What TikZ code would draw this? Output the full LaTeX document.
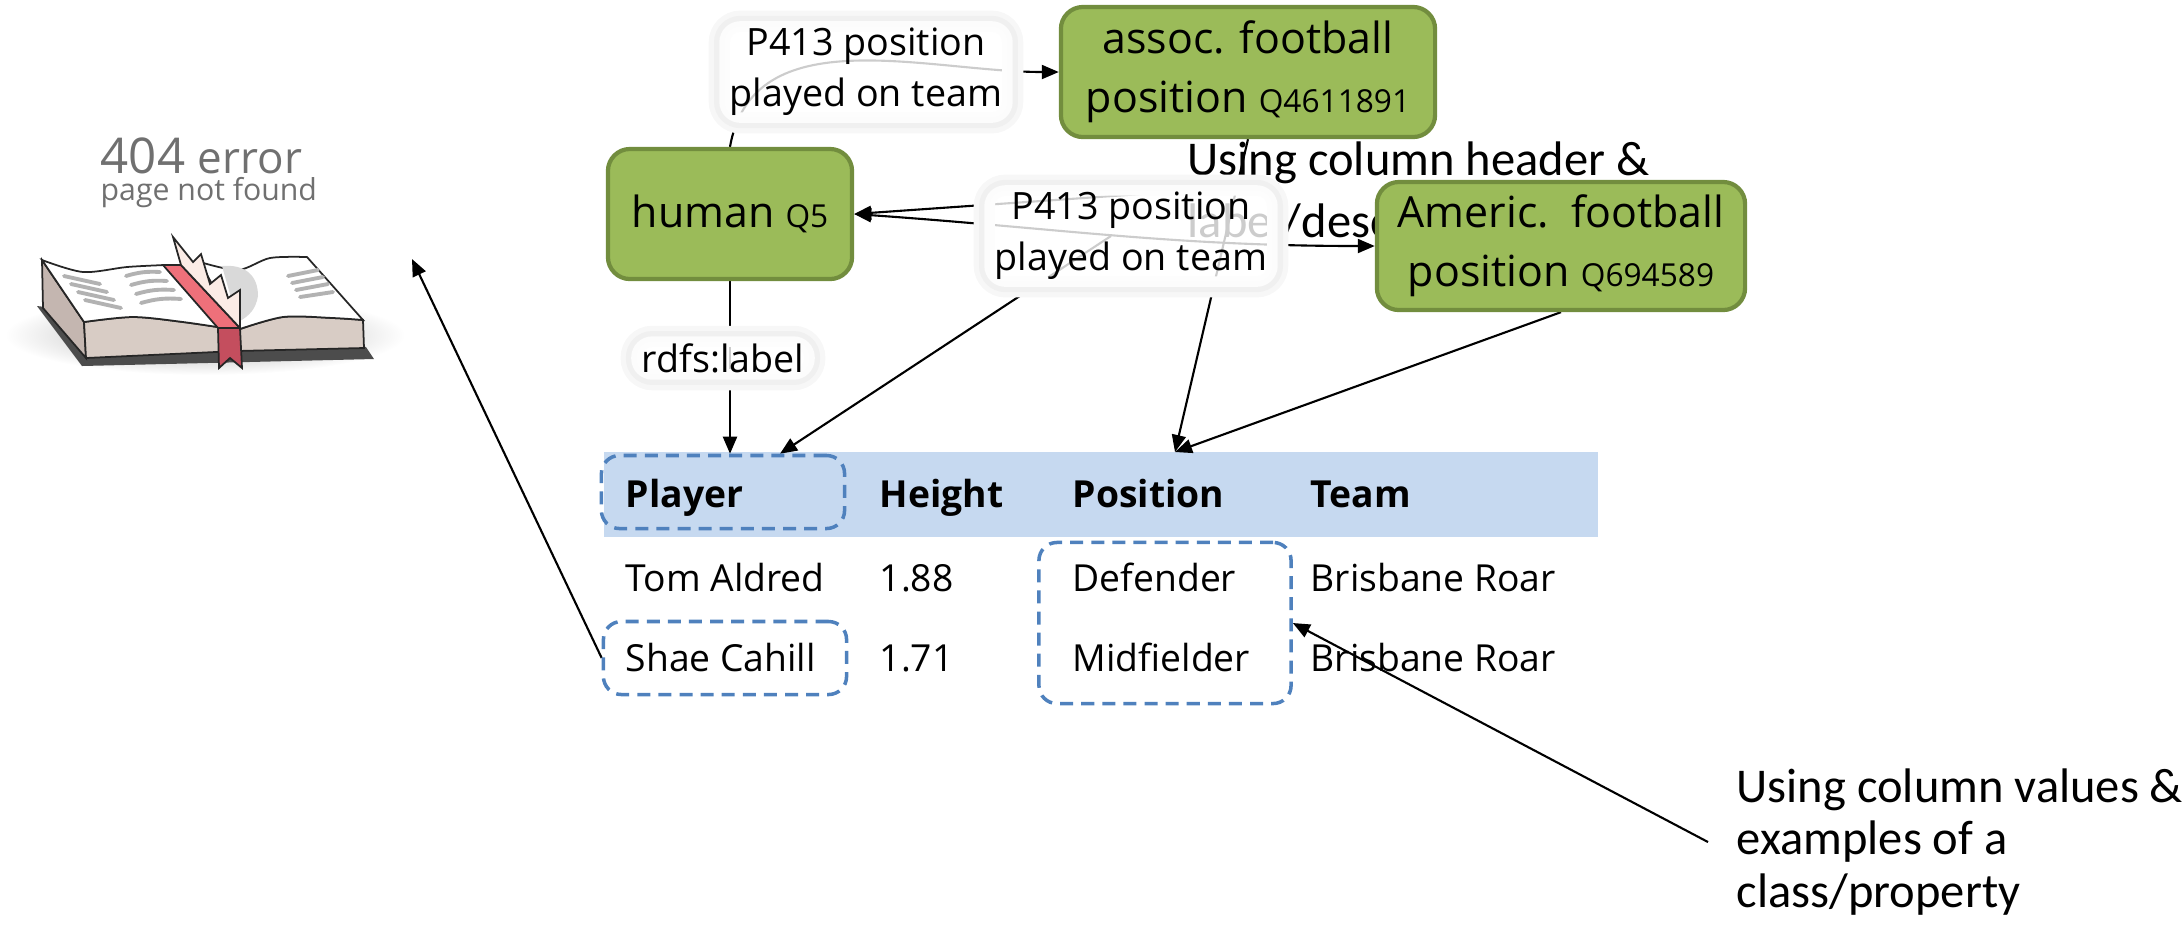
\documentclass[tikz,border=0pt]{standalone}
\usepackage{fontspec}
\setmainfont{Open Sans}
\newfontfamily\calibri{Carlito}
\usepackage{xcolor}
\usepackage{tikz}
\usetikzlibrary{arrows.meta, positioning, backgrounds}
\definecolor{wdgreen}{RGB}{155, 187, 89}
\definecolor{wdedge}{RGB}{114, 141, 62}
\definecolor{headblue}{RGB}{198, 217, 240}
\definecolor{pickblue}{RGB}{79, 129, 189}
\definecolor{errgray}{RGB}{112, 112, 112}
\definecolor{pagetan}{RGB}{216, 204, 197}
\definecolor{spinetan}{RGB}{196, 182, 176}
\definecolor{ribbonred}{RGB}{238, 112, 122}
\definecolor{ribbondark}{RGB}{196, 78, 94}
\definecolor{tornpage}{RGB}{251, 236, 230}
\newcommand{\qid}[1]{{\fontsize{9}{10}\selectfont #1}}

\begin{document}
\begin{tikzpicture}[
    x=0.01cm, y=0.01cm,
    entity/.style={rectangle, draw=wdedge, line width=1.2pt, fill=wdgreen, rounded corners=0.22cm, minimum height=1.3cm, align=center, font=\fontsize{12.2}{16.8}\selectfont},
    edgelbl/.style={fill=white, fill opacity=0.8, text opacity=1, rounded corners=6pt, inner xsep=3pt, inner ysep=2pt, align=center, font=\fontsize{10.7}{14.5}\selectfont,
        preaction={draw=black!3, line width=6pt}, preaction={draw=black!6, line width=3pt}},
    cell/.style={anchor=base west, inner sep=0pt, font=\fontsize{10.6}{12}\selectfont},
    headcell/.style={cell, font=\fontsize{10.6}{12}\selectfont\bfseries},
    pick/.style={draw=pickblue, line width=1pt, dash pattern=on 3.7pt off 2.3pt, rounded corners=0.18cm},
    remark/.style={anchor=base west, align=left, inner ysep=0pt, font=\calibri\fontsize{13.8}{14.8}\selectfont},
    arrow/.style={-{Triangle[length=1.7mm, width=1.4mm]}, line width=0.6pt},
    twoway/.style={{Triangle[length=1.7mm, width=1.4mm]}-{Triangle[length=1.7mm, width=1.4mm]}, line width=0.6pt}
]
    \useasboundingbox (0,0) rectangle (2184,-926);

    % 404 page
    \shade[inner color=black!35, outer color=white] (205,-335) ellipse [x radius=200, y radius=40];
    \fill[black!70] (37,-306) -- (82,-366) -- (374,-359) -- (366,-347) -- cycle;
    \filldraw[fill=spinetan, draw=black!85, line width=0.5pt] (42,-260) -- (84,-322) -- (86,-358) -- (43,-308) -- cycle;
    \filldraw[fill=pagetan, draw=black!85, line width=0.5pt] plot[smooth] coordinates {(84,-322) (133,-317) (183,-322) (237,-330)}
        -- plot[smooth] coordinates {(237,-330) (283,-317) (333,-318) (363,-320)} -- (364,-348) -- (237,-351) -- (86,-358) -- cycle;
    \filldraw[fill=white, draw=black!85, line width=0.5pt] plot[smooth] coordinates {(200,-262) (238,-270) (270,-258) (307,-257)}
        -- (363,-320) -- plot[smooth] coordinates {(363,-320) (333,-318) (283,-317) (237,-330)} -- cycle;
    \fill[black!15] (222,-266) .. controls (246,-264) and (258,-276) .. (258,-296) .. controls (256,-308) and (250,-316) .. (238,-322) -- cycle;
    \draw[black!30, line width=1.1pt, line cap=round] (288,-276) -- (318,-270) (292,-283) -- (323,-277) (296,-290) -- (328,-284) (300,-297) -- (333,-292);
    \filldraw[fill=white, draw=black!85, line width=0.5pt] plot[smooth] coordinates {(42,-260) (83,-272) (127,-267) (165,-265)}
        -- (237,-330) -- plot[smooth] coordinates {(237,-330) (183,-322) (133,-317) (84,-322)} -- cycle;
    \draw[black!30, line width=1.1pt, line cap=round] (64,-276) -- (100,-284) (71,-284) -- (107,-292) (78,-292) -- (114,-300) (85,-300) -- (121,-308);
    \draw[black!30, line width=1.1pt, line cap=round] (126,-276) to[bend left=10] (160,-272) (131,-285) to[bend left=10] (167,-281) (136,-294) to[bend left=10] (174,-290) (141,-303) to[bend left=10] (181,-299);
    \filldraw[fill=ribbonred, draw=black!85, line width=0.5pt] (163,-265) -- (181,-265) -- (240,-328) -- (218,-328) -- cycle;
    \filldraw[fill=ribbondark, draw=black!85, line width=0.5pt] (218,-328) -- (240,-328) -- (242,-368) -- (230,-358) -- (219,-368) -- cycle;
    \filldraw[fill=tornpage, draw=black!85, line width=0.5pt] (173,-237) -- (193,-262) -- (201,-254) -- (210,-284) -- (221,-275) -- (228,-298) -- (240,-290) -- (240,-328) -- (181,-265) -- cycle;
    \node[anchor=base west, inner sep=0pt, text=errgray, font=\fontsize{14}{16}\selectfont] (err404) at (100,-173) {404 {\fontsize{12.5}{14}\selectfont error}};
    \node[anchor=base west, inner sep=0pt, text=errgray, font=\fontsize{8.6}{10}\selectfont] (errmsg) at (100,-200) {page not found};
    \coordinate (errpage) at (412,-259);

    % Wikidata entities
    \node[entity, minimum width=2.44cm] (human) at (730,-214) {human \qid{Q5}};
    \node[entity, minimum width=3.74cm] (assoc) at (1248,-72) {assoc. football\\position \qid{Q4611891}};
    \node[remark, inner xsep=0pt, font=\calibri\fontsize{13.8}{17.6}\selectfont] (hdrnote) at (1187,-237) {Using column header \&\\label/description};
    \node[entity, minimum width=3.68cm, minimum height=1.28cm] (americ) at (1561,-246) {Americ.\ \ football\\position \qid{Q694589}};

    % Table
    \node[headcell] (hPlayer) at (625,-507) {Player};
    \node[headcell] (hHeight) at (879,-507) {Height};
    \node[headcell] (hPos) at (1072,-507) {Position};
    \node[headcell] (hTeam) at (1310,-507) {Team};
    \node[cell] (tom) at (625,-591) {Tom Aldred};
    \node[cell] (tomh) at (879,-591) {1.88};
    \node[cell] (tomp) at (1072,-591) {Defender};
    \node[cell] (tomt) at (1310,-591) {Brisbane Roar};
    \node[cell] (shae) at (625,-671) {Shae Cahill};
    \node[cell] (shaeh) at (879,-671) {1.71};
    \node[cell] (shaep) at (1072,-671) {Midfielder};
    \node[cell] (shaet) at (1310,-671) {Brisbane Roar};
    \coordinate (posin) at (1175,-452);

    % Picked cells
    \node[pick, minimum width=2.43cm, minimum height=0.73cm] (colbox) at (723,-492) {};
    \node[pick, minimum width=2.43cm, minimum height=0.73cm] (shaebox) at (725,-658) {};
    \node[pick, minimum width=2.52cm, minimum height=1.61cm] (valbox) at (1165,-623) {};
    \node[remark, inner xsep=2.8mm] (valnote) at (1708,-907) {Using column values \&\\examples of a\\class/property};

    % Edge labels
    \node[edgelbl] (lbl1) at (866,-72) {P413 position\\played on team};
    \node[edgelbl] (lbl2) at (1131,-236) {P413 position\\played on team};
    \node[edgelbl] (lbl3) at (723,-358) {rdfs:label};

    % Arrows
    \begin{scope}[on background layer]
        \fill[headblue] (604,-452) rectangle (1598,-537);
        \draw[arrow] (human.north) to[out=80, in=180] (assoc.west);
        \draw[twoway] (human.east) to[out=-4, in=180] (americ.west);
        \draw[arrow] (lbl2.north east) -- (human.east);
        \draw[arrow] ([xshift=-2mm]lbl2.center) -- ([xshift=5.7mm]colbox.north);
        \draw[arrow] (human.south) -- (human.south |- colbox.north);
        \draw[arrow] (assoc.south) -- (posin);
        \draw[arrow] (americ.south) -- (posin);
        \draw[arrow] (shaebox.west) -- (errpage);
        \draw[arrow] (valnote.west) -- (valbox.east);
    \end{scope}
\end{tikzpicture}
\end{document}
